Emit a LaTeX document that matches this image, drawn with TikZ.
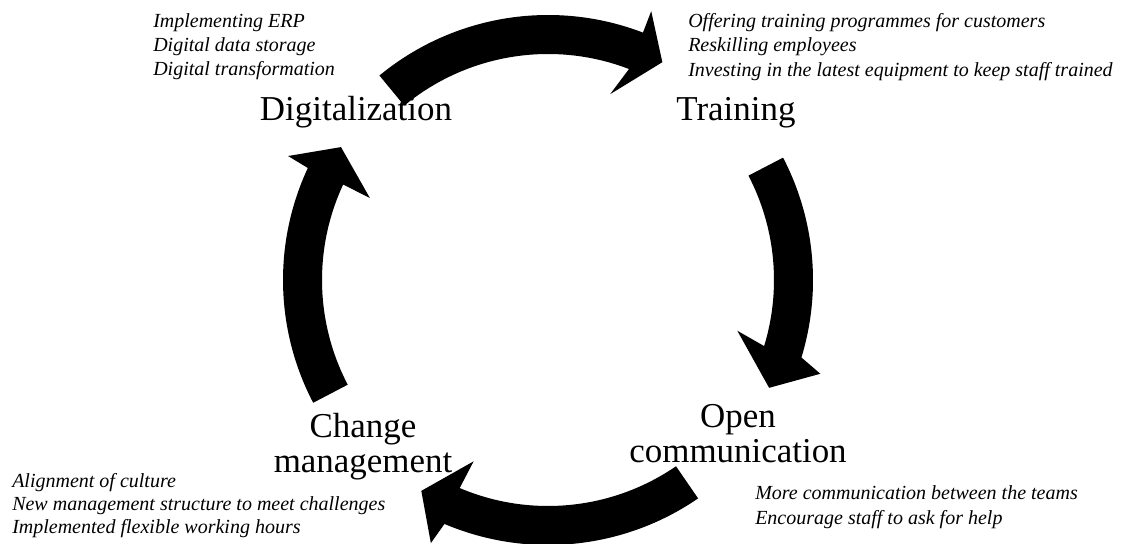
\documentclass[tikz,border=0pt]{standalone}
\usepackage{fontspec}
\setmainfont{Liberation Serif}
\begin{document}
\begin{tikzpicture}[x=0.75pt,y=0.75pt,
  bigl/.style={inner sep=0pt,anchor=base,font=\fontsize{26.2}{26.2}\selectfont},
  note/.style={inner sep=0pt,anchor=base west,font=\fontsize{15}{18}\selectfont\itshape},
  arrowfill/.style={fill=black}]
\useasboundingbox (0,0) rectangle (1141,543);
\def\Rout{265}\def\Rin{226}\def\Rbo{288}\def\Rbi{196}\def\Rtip{246}
\newcommand{\blockarrow}[5]{%
  \fill[arrowfill,shift={(C)}] (#1:\Rout) arc[start angle=#1,end angle=#2,radius=\Rout]
    -- (#4:\Rbo) -- (#3:\Rtip) -- (#5:\Rbi) -- (#2:\Rin)
    arc[start angle=#2,end angle=#1,radius=\Rin] -- cycle;}
\coordinate (C) at (548,263);
% arrows: tail, neck, tip, outer barb, inner barb
\blockarrow{129.5}{69}{62.3}{69}{71.5}
\blockarrow{27.5}{-17}{-26}{-19}{-15}
\blockarrow{-55.5}{-113}{-121}{-114}{-112.3}
\blockarrow{207.6}{155}{147.3}{154.5}{155.3}
% main labels
\node[bigl] (dig) at (356,422) {Digitalization};
\node[bigl] (tra) at (736,422) {Training};
\node[bigl] (open1) at (738,116) {Open};
\node[bigl] (open2) at (738,81) {communication};
\node[bigl] (chg1) at (363,106) {Change};
\node[bigl] (chg2) at (363,71) {management};
% notes
\node[note] (d1) at (153,515) {Implementing ERP};
\node[note] (d2) at (153,491) {Digital data storage};
\node[note] (d3) at (153,467) {Digital transformation};
\node[note] (t1) at (688,515) {Offering training programmes for customers};
\node[note] (t2) at (688,491) {Reskilling employees};
\node[note] (t3) at (688,466) {Investing in the latest equipment to keep staff trained};
\node[note] (o1) at (755,44) {More communication between the teams};
\node[note] (o2) at (755,19) {Encourage staff to ask for help};
\node[note] (c1) at (12,56) {Alignment of culture};
\node[note] (c2) at (12,33) {New management structure to meet challenges};
\node[note] (c3) at (12,10) {Implemented flexible working hours};
\end{tikzpicture}
\end{document}
